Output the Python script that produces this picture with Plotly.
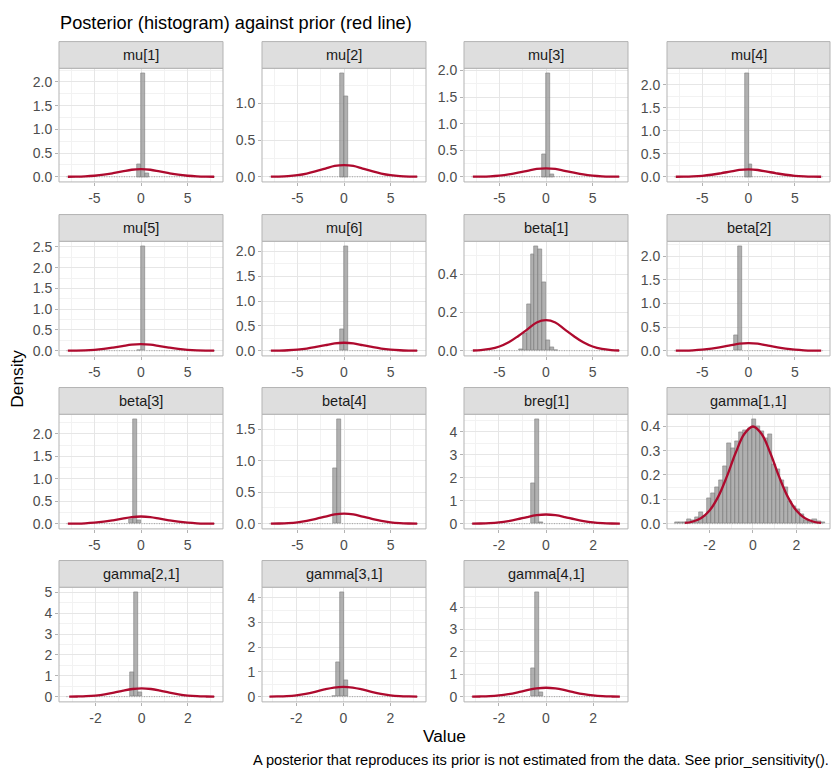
import math
import plotly.graph_objects as go

# ---------------- data ----------------
panel_names = ["mu[1]", "mu[2]", "mu[3]", "mu[4]", "mu[5]", "mu[6]",
               "beta[1]", "beta[2]", "beta[3]", "beta[4]", "breg[1]",
               "gamma[1,1]", "gamma[2,1]", "gamma[3,1]", "gamma[4,1]"]

# prior density curves
prior_wide_x = [-7.85, -7.0, -6.0, -5.0, -4.0, -3.0, -2.0, -1.0, 0.0,
                1.0, 2.0, 3.0, 4.0, 5.0, 6.0, 7.0, 7.85]
prior_wide_y = [0.001, 0.003, 0.009, 0.022, 0.044, 0.076, 0.112, 0.148, 0.160,
                0.148, 0.112, 0.076, 0.044, 0.022, 0.009, 0.003, 0.001]
prior_unit_x = [-3.14, -2.8, -2.4, -2.0, -1.6, -1.2, -0.8, -0.4, 0.0,
                0.4, 0.8, 1.2, 1.6, 2.0, 2.4, 2.8, 3.14]
prior_unit_y = [0.003, 0.008, 0.022, 0.054, 0.111, 0.194, 0.290, 0.368, 0.399,
                0.368, 0.290, 0.194, 0.111, 0.054, 0.022, 0.008, 0.003]

# posterior histogram densities (non-empty bins, left to right)
mu1_density = [0.27, 2.18, 0.08]
mu2_density = [1.41, 1.10]
mu3_density = [0.42, 1.945, 0.04]
mu4_density = [2.25, 0.27]
mu5_density = [0.01, 2.51]
mu6_density = [0.437, 2.10]
beta1_density = [0.01, 0.09, 0.245, 0.507, 0.546, 0.533, 0.357, 0.057, 0.02, 0.005]
beta2_density = [0.32, 2.21]
beta3_density = [0.11, 2.32, 0.08]
beta4_density = [0.88, 1.657]
breg1_density = [1.77, 4.53, 0.07]
gamma11_density = [0.005, 0.005, 0.005, 0.018, 0.016, 0.025, 0.048, 0.03,
                   0.105, 0.125, 0.15, 0.18, 0.235, 0.33, 0.31, 0.34,
                   0.375, 0.385, 0.39, 0.428, 0.40, 0.378, 0.35, 0.366,
                   0.243, 0.222, 0.18, 0.148, 0.094, 0.073, 0.06, 0.04,
                   0.016, 0.01, 0.02, 0.012, 0.005]
gamma21_density = [1.16, 5.0, 0.2]
gamma31_density = [0.03, 1.4, 4.21, 0.68]
gamma41_density = [1.25, 4.66, 0.19]

# left edge of the first listed bin and bin width, per panel
bin_start = [-0.41, -0.41, -0.41, -0.41, -0.41, -0.41, -2.92, -1.575, -1.255,
             -1.165, -0.635, -3.615, -0.497, -0.48, -0.635]
bin_width = [0.41, 0.41, 0.41, 0.41, 0.41, 0.41, 0.42, 0.41, 0.41,
             0.41, 0.163, 0.187, 0.165, 0.165, 0.163]
# full extent of the histogram (empty bins included)
hist_lo = [-8.0] * 10 + [-3.17, -3.62, -3.26, -3.14, -3.17]
hist_hi = [8.0] * 10 + [3.17, 3.21, 3.20, 3.20, 3.17]
prior_kind = ["wide"] * 10 + ["unit"] * 5
y_dtick = [0.5, 0.5, 0.5, 0.5, 0.5, 0.5, 0.2, 0.5, 0.5, 0.5, 1, 0.1, 1, 1, 1]

densities = [mu1_density, mu2_density, mu3_density, mu4_density, mu5_density,
             mu6_density, beta1_density, beta2_density, beta3_density,
             beta4_density, breg1_density, gamma11_density, gamma21_density,
             gamma31_density, gamma41_density]

# ---------------- layout geometry (pixels) ----------------
W, H = 840, 780
col_x = [(59, 223), (262, 426), (464, 628), (667, 830)]
row_strip = [(36, 63), (211, 238), (386, 413), (561, 588)]
row_panel = [(63, 178), (238, 354), (413, 529), (588, 704)]

FONT = "Liberation Sans, Arial, Helvetica, sans-serif"
BAR_FILL = "rgba(150,150,150,0.75)"
BAR_LINE = "rgb(125,125,125)"
RED = "#AE0A2E"
GRID = "#E6E6E6"
GRID_MINOR = "#F2F2F2"
BORDER = "#B3B3B3"
TICK_SIZE = 14


def ticks_in(lo, hi, step, decimals):
    vals, texts = [], []
    k = math.ceil(lo / step - 1e-9)
    while k * step <= hi + 1e-9:
        v = round(k * step, 6)
        vals.append(v)
        if decimals == 0:
            t = str(int(round(v)))
        else:
            t = f"{v:.{decimals}f}"
        if t.startswith("-0") and float(t) == 0:
            t = t[1:]
        texts.append(t)
        k += 1
    return vals, texts


fig = go.Figure()
shapes = []
annotations = []
layout_axes = {}

for i, name in enumerate(panel_names):
    k = i + 1
    xs = "x" if k == 1 else f"x{k}"
    ys = "y" if k == 1 else f"y{k}"
    xname = "xaxis" if k == 1 else f"xaxis{k}"
    yname = "yaxis" if k == 1 else f"yaxis{k}"
    r, c = divmod(i, 4)
    (px0, px1) = col_x[c]
    (py0, py1) = row_panel[r]
    (sy0, sy1) = row_strip[r]

    dens = densities[i]
    w = bin_width[i]
    centers = [bin_start[i] + w * (j + 0.5) for j in range(len(dens))]

    if prior_kind[i] == "wide":
        pxv, pyv = prior_wide_x, prior_wide_y
        xdt, xminor = 5, 2.5
    else:
        pxv, pyv = prior_unit_x, prior_unit_y
        xdt, xminor = 2, 1

    # baseline of empty bins
    fig.add_trace(go.Scatter(x=[hist_lo[i], hist_hi[i]], y=[0, 0], mode="lines",
                             line=dict(color="rgb(140,140,140)", width=0.8, dash="1px,1.5px"),
                             xaxis=xs, yaxis=ys, hoverinfo="skip"))
    fig.add_trace(go.Bar(x=centers, y=dens, width=[w] * len(dens),
                         marker=dict(color=BAR_FILL, line=dict(color=BAR_LINE, width=0.6)),
                         xaxis=xs, yaxis=ys))
    fig.add_trace(go.Scatter(x=pxv, y=pyv, mode="lines",
                             line=dict(color=RED, width=2.3, shape="spline", smoothing=1.0),
                             xaxis=xs, yaxis=ys))

    lo, hi = hist_lo[i], hist_hi[i]
    span = hi - lo
    xr = [lo - 0.05 * span, hi + 0.05 * span]
    ymax = max(max(dens), max(pyv))
    yr = [-0.05 * ymax, 1.05 * ymax]
    ydt = y_dtick[i]

    xtv, xtt = ticks_in(xr[0], xr[1], xdt, 0)
    ytv, ytt = ticks_in(yr[0], yr[1], ydt, 1 if ydt < 1 else 0)

    layout_axes[xname] = dict(
        domain=[px0 / W, px1 / W], anchor=ys, range=xr,
        tickmode="array", tickvals=xtv, ticktext=xtt,
        showgrid=True, gridcolor=GRID, gridwidth=1,
        zeroline=False, showline=False,
        ticks="outside", ticklen=3, tickcolor=BORDER, tickwidth=1,
        tickfont=dict(family=FONT, size=TICK_SIZE, color="#4D4D4D"),
        minor=dict(tick0=0, dtick=xminor, showgrid=True, gridcolor=GRID_MINOR,
                   gridwidth=0.8, ticks=""),
    )
    layout_axes[yname] = dict(
        domain=[1 - py1 / H, 1 - py0 / H], anchor=xs, range=yr,
        tickmode="array", tickvals=ytv, ticktext=ytt,
        showgrid=True, gridcolor=GRID, gridwidth=1,
        zeroline=False, showline=False,
        ticks="outside", ticklen=3, tickcolor=BORDER, tickwidth=1,
        tickfont=dict(family=FONT, size=TICK_SIZE, color="#4D4D4D"),
        minor=dict(tick0=0, dtick=ydt / 2, showgrid=True, gridcolor=GRID_MINOR,
                   gridwidth=0.8, ticks=""),
    )

    # panel border
    shapes.append(dict(type="rect", xref="paper", yref="paper",
                       x0=px0 / W, x1=px1 / W, y0=1 - py1 / H, y1=1 - py0 / H,
                       line=dict(color=BORDER, width=1), fillcolor="rgba(0,0,0,0)",
                       layer="above"))
    # strip
    shapes.append(dict(type="rect", xref="paper", yref="paper",
                       x0=px0 / W, x1=px1 / W, y0=1 - sy1 / H, y1=1 - sy0 / H,
                       line=dict(color=BORDER, width=1), fillcolor="#DEDEDE",
                       layer="above"))
    annotations.append(dict(text=name, xref="paper", yref="paper",
                            x=(px0 + px1) / 2 / W, y=1 - (sy0 + sy1) / 2 / H,
                            xanchor="center", yanchor="middle", showarrow=False,
                            font=dict(family=FONT, size=14.5, color="#1A1A1A")))

annotations.append(dict(text="Posterior (histogram) against prior (red line)",
                        xref="paper", yref="paper", x=58 / W, y=1 - 17 / H,
                        xanchor="left", yanchor="middle", showarrow=False,
                        font=dict(family=FONT, size=18.2, color="#000000")))
annotations.append(dict(text="Value", xref="paper", yref="paper",
                        x=444.5 / W, y=1 - 739 / H, xanchor="center", yanchor="middle",
                        showarrow=False, font=dict(family=FONT, size=17.3, color="#000000")))
annotations.append(dict(text="Density", xref="paper", yref="paper",
                        x=17 / W, y=1 - 377 / H, xanchor="center", yanchor="middle",
                        textangle=-90, showarrow=False,
                        font=dict(family=FONT, size=17.3, color="#000000")))
annotations.append(dict(text="A posterior that reproduces its prior is not estimated from the data. See prior_sensitivity().",
                        xref="paper", yref="paper", x=831 / W, y=1 - 763 / H,
                        xanchor="right", yanchor="middle", showarrow=False,
                        font=dict(family=FONT, size=14.6, color="#000000")))

fig.update_layout(width=W, height=H, margin=dict(l=0, r=0, t=0, b=0),
                  plot_bgcolor="white", paper_bgcolor="white", showlegend=False,
                  barmode="overlay", bargap=0, shapes=shapes, annotations=annotations,
                  **layout_axes)

fig.write_html("out.html")
